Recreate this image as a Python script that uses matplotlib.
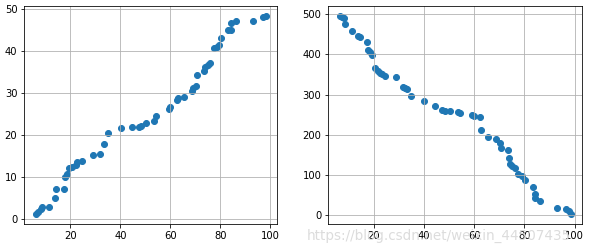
import matplotlib
matplotlib.use('Agg')
import matplotlib.pyplot as plt

# --- DATA ---
x_left = [6.1, 7.1, 8.1, 8.7, 11.4, 13.8, 14.2, 17.3, 17.8, 18.7, 19.4, 20.5,
          22.1, 22.7, 24.6, 29.0, 31.8, 33.3, 34.9, 40.1, 44.5, 47.3, 48.2,
          50.4, 53.5, 54.3, 59.5, 60.0, 62.6, 63.2, 65.6, 68.6, 69.2, 70.4,
          70.9, 73.5, 74.1, 75.0, 76.1, 77.6, 78.8, 79.4, 80.4, 83.3, 84.4,
          84.2, 86.3, 93.0, 97.1, 98.3]
y_left = [1.2, 1.7, 2.4, 2.9, 2.9, 5.0, 7.2, 7.2, 10.0, 10.8, 12.1, 12.3,
          12.8, 13.6, 13.8, 15.2, 15.5, 17.9, 20.5, 21.7, 21.9, 21.9, 22.2,
          22.9, 23.4, 24.6, 26.2, 26.7, 28.4, 28.8, 29.0, 30.6, 31.2, 31.7,
          34.3, 35.2, 36.3, 36.7, 37.2, 40.7, 40.9, 41.4, 43.1, 45.0, 45.0,
          46.7, 47.1, 47.1, 48.2, 48.4]

x_right = [6.4, 7.3, 8.1, 8.6, 11.2, 13.8, 14.6, 17.3, 17.8, 18.3, 19.2, 20.6,
           21.8, 22.3, 23.3, 24.6, 28.8, 31.6, 32.4, 33.2, 34.9, 40.1, 44.3,
           47.1, 48.3, 50.3, 53.5, 54.4, 59.2, 60.0, 62.3, 62.7, 65.3, 68.5,
           70.1, 70.5, 73.4, 73.7, 74.1, 75.1, 76.2, 77.5, 78.9, 80.1, 83.4,
           84.2, 84.3, 86.2, 93.2, 96.8, 97.7, 98.5]
y_right = [496, 494, 490, 475, 458, 446, 444, 430, 411, 407, 399, 366,
           359, 354, 351, 347, 344, 318, 317, 315, 296, 284, 271,
           262, 259, 260, 256, 255, 249, 246, 244, 211, 193, 189,
           179, 167, 162, 143, 127, 121, 117, 102, 98, 86, 70,
           53, 41, 35, 16, 15, 9, 2]

fig = plt.figure(figsize=(589 / 72, 247 / 72), dpi=72)
ax1 = fig.add_axes([0.0413, 0.0931, 0.4295, 0.8826])
ax2 = fig.add_axes([0.5574, 0.0931, 0.4312, 0.8826])

ax1.scatter(x_left, y_left)
ax1.grid(True)
ax1.set_xticks([20, 40, 60, 80, 100])
ax1.set_yticks([0, 10, 20, 30, 40, 50])

ax2.scatter(x_right, y_right)
ax2.grid(True)
ax2.set_xticks([20, 40, 60, 80, 100])
ax2.set_yticks([0, 100, 200, 300, 400, 500])

# watermark
fig.text(307 / 589, 1 - 240 / 247, 'https://blog.csdn.net/weixin_44507435',
         fontsize=13.5, color='#dcdcdc', ha='left', va='baseline')

fig.savefig('out.png', dpi=72)
